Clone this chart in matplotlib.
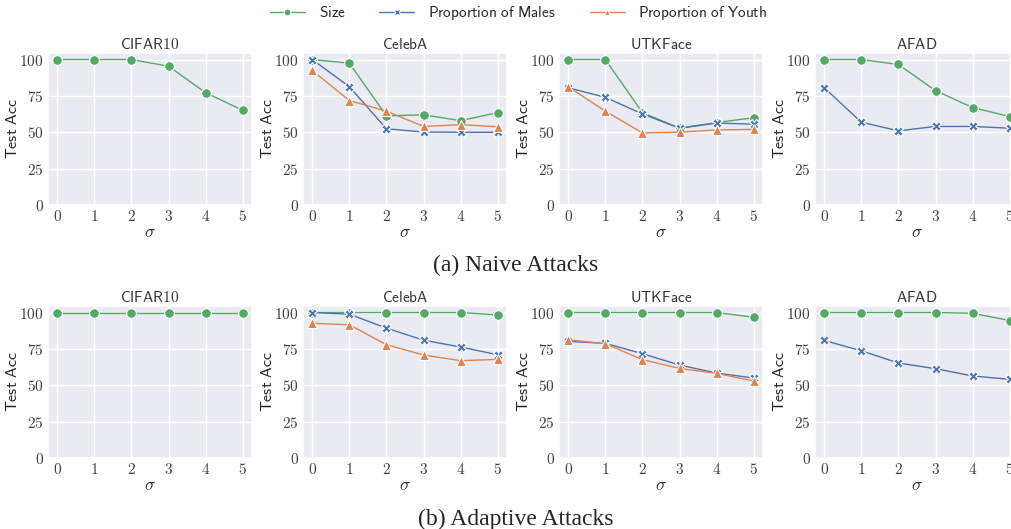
import matplotlib
matplotlib.use('Agg')
import matplotlib.pyplot as plt
import seaborn as sns

sigma = [0, 1, 2, 3, 4, 5]
datasets = ['CIFAR10', 'CelebA', 'UTKFace', 'AFAD']
series_names = ['Size', 'Proportion of Males', 'Proportion of Youth']

# naive attacks (top row); None = series not reported for that dataset
naive_size = {
    'CIFAR10': [100, 100, 100, 95.4, 77.2, 65.1],
    'CelebA': [100, 97.5, 61.3, 62.0, 58.0, 63.5],
    'UTKFace': [100, 100, 63.5, 52.8, 56.7, 60.0],
    'AFAD': [100, 100, 96.6, 78.6, 67.0, 60.8],
}
naive_males = {
    'CIFAR10': None,
    'CelebA': [100, 81.3, 52.4, 50.2, 50.0, 50.0],
    'UTKFace': [80.6, 74.0, 62.6, 52.8, 56.3, 55.6],
    'AFAD': [80.6, 56.9, 51.0, 54.0, 54.0, 52.8],
}
naive_youth = {
    'CIFAR10': None,
    'CelebA': [92.5, 71.8, 64.5, 54.0, 55.2, 53.8],
    'UTKFace': [81.3, 64.5, 49.6, 50.1, 51.6, 52.0],
    'AFAD': None,
}

# adaptive attacks (bottom row)
adapt_size = {
    'CIFAR10': [100, 100, 100, 100, 100, 100],
    'CelebA': [100, 100, 100, 100, 100, 98.4],
    'UTKFace': [100, 100, 100, 100, 100, 96.8],
    'AFAD': [100, 100, 100, 100, 99.5, 94.5],
}
adapt_males = {
    'CIFAR10': None,
    'CelebA': [100, 98.9, 89.3, 81.0, 76.3, 71.0],
    'UTKFace': [80.2, 78.8, 71.7, 63.9, 58.4, 55.0],
    'AFAD': [80.8, 73.7, 65.3, 61.4, 56.4, 54.1],
}
adapt_youth = {
    'CIFAR10': None,
    'CelebA': [92.6, 91.6, 77.9, 70.8, 66.9, 67.8],
    'UTKFace': [81.3, 78.6, 67.6, 61.6, 58.2, 52.9],
    'AFAD': None,
}

colors = ['#55A868', '#4C72B0', '#DD8452']
markers = ['o', 'X', '^']


def sf(text):
    # computer modern sans via mathtext
    return r'$\mathsf{' + text.replace(' ', r'\ ') + '}$'


def draw_row(fig, bottom, rows):
    lefts = [48, 303, 559, 815]
    W, H = 1011, 529
    handles = []
    for i, name in enumerate(datasets):
        ax = fig.add_axes([lefts[i] / W, bottom, 204 / W, 152 / H])
        for k in range(3):
            vals = rows[k][name]
            if vals is None:
                continue
            ln, = ax.plot(sigma, vals, color=colors[k], marker=markers[k],
                          markersize=7, markeredgecolor='white',
                          markeredgewidth=0.8, linewidth=1.0,
                          label=sf(series_names[k]))
            if i == 1:
                handles.append(ln)
        ax.set_ylim(0, 104.5)
        ax.set_xlim(-0.25, 5.25)
        ax.set_xticks(sigma, labels=[f'${s}$' for s in sigma])
        ax.set_yticks([0, 25, 50, 75, 100],
                      labels=[f'${v}$' for v in [0, 25, 50, 75, 100]])
        ax.tick_params(labelsize=11, pad=3, length=0, colors='.25')
        ax.set_xlabel(r'$\sigma$', fontsize=12.5)
        ax.xaxis.set_label_coords(0.5, -0.12)
        ax.set_ylabel(sf('Test Acc'), fontsize=11.5)
        ax.yaxis.set_label_coords(-0.137, 0.5)
        ax.set_title(sf(name), fontsize=11, pad=3, color='.2')
    return handles


def main():
    sns.set_theme(style='darkgrid')
    plt.rcParams['font.family'] = ['DejaVu Sans']
    plt.rcParams['mathtext.fontset'] = 'cm'
    fig = plt.figure(figsize=(10.11, 5.29), dpi=100)

    handles = draw_row(fig, 1 - 205 / 529, [naive_size, naive_males, naive_youth])
    draw_row(fig, 1 - 458 / 529, [adapt_size, adapt_males, adapt_youth])

    fig.legend(handles=handles, loc='center', bbox_to_anchor=(0.513, 0.975),
               ncol=3, frameon=False, fontsize=11, markerscale=0.7,
               handlelength=2.3, handletextpad=0.9, columnspacing=2.2)

    fig.text(516 / 1011, 1 - 265 / 529, '(a) Naive Attacks', ha='center',
             va='center', fontsize=17, family='Liberation Serif')
    fig.text(516 / 1011, 1 - 519 / 529, '(b) Adaptive Attacks', ha='center',
             va='center', fontsize=17, family='Liberation Serif')

    plt.savefig('out.png', dpi=100)


if __name__ == '__main__':
    main()
